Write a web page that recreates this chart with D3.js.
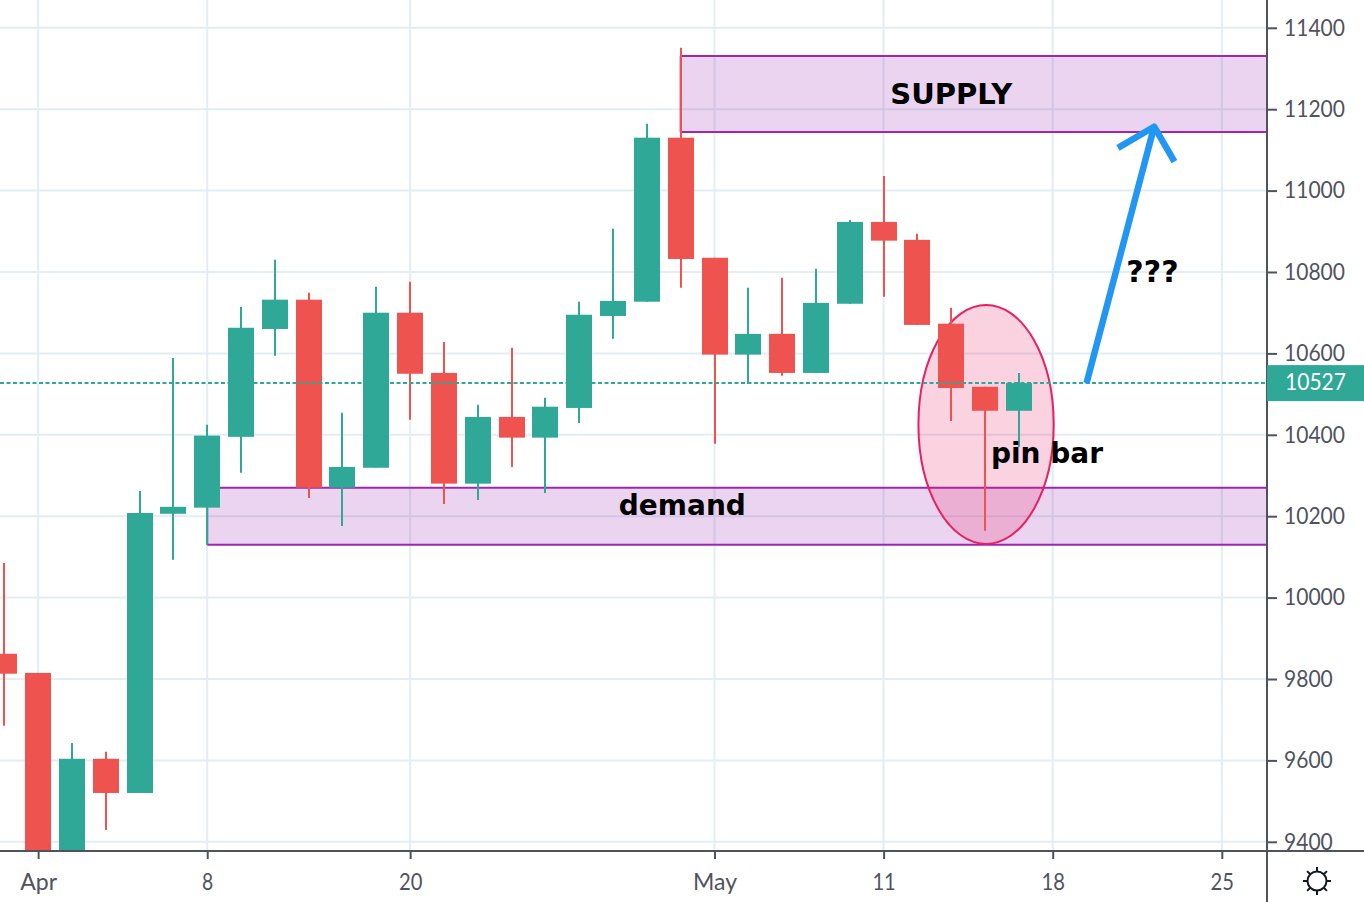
<!DOCTYPE html>
<html>
<head>
<meta charset="utf-8">
<script src="https://cdn.jsdelivr.net/npm/d3@7/dist/d3.min.js"></script>
<style>
html,body{margin:0;padding:0;background:#fff;overflow:hidden}
svg{display:block}
.ax{font-family:Lato,"Open Sans",sans-serif;fill:#50535e;font-size:23px}
.note{font-family:"DejaVu Sans",sans-serif;font-weight:700;fill:#000;text-anchor:middle}
</style>
</head>
<body>
<svg id="c" width="1364" height="902"></svg>
<script>
const bars   = d3.range(31);
const opens  = [9862,9815,9300,9604,9520,10206,10221,10395,10660,10732,10270,10319,10700,10552,10280,10444,10393,10466,10692,10727,11130,10835,10597,10648,10552,10722,10923,10879,10673,10518,10459];
const closes = [9813,9300,9604,9520,10208,10223,10398,10663,10732,10270,10321,10700,10550,10280,10444,10393,10469,10695,10729,11130,10832,10597,10648,10552,10724,10923,10877,10670,10515,10459,10527];
const highs  = [10085,9815,9643,9621,10262,10589,10425,10714,10830,10749,10454,10764,10776,10628,10474,10614,10491,10727,10906,11164,11351,10835,10761,10786,10808,10928,11036,10894,10712,10518,10552];
const lows   = [9685,9300,9300,9429,9520,10093,10130,10307,10594,10245,10176,10319,10437,10230,10240,10321,10257,10429,10636,10727,10761,10378,10525,10545,10552,10722,10739,10670,10434,10164,10370];

const priceTicks = [9400,9600,9800,10000,10200,10400,10600,10800,11000,11200,11400];
const timeTicks  = [1,6,12,21,26,31,36];
const timeLabels = ["Apr","8","20","May","11","18","25"];
const lastPrice  = 10527;
const supplyZone = [20,11331,11144];
const demandZone = [6,10270,10130];
const pinEllipse = [29.03,10719,10132];
const arrowShaft = [[32.0,10527],[34.0,11157]];
const arrowHead  = [[32.93,11105],[34.0,11157],[34.6,11071]];
const notes = [["SUPPLY",28,11213,29],["demand",20.05,10203,28],["pin bar",30.83,10331,28],["???",33.95,10775,30]];

const W=1364,H=902,axisX=1267,axisY=851;
const up="#2fa898",down="#ef5350",grid="#e3edf3",axc="#50535e";
const x=d3.scaleLinear().domain([0,36]).range([4.3,1221.8]);
const y=d3.scaleLinear().domain([9400,11400]).range([841.8,27.8]);
const svg=d3.select("#c");
const defs=svg.append("defs");
defs.append("clipPath").attr("id","pane").append("rect").attr("x",0).attr("y",0).attr("width",axisX).attr("height",axisY);
const pane=svg.append("g").attr("clip-path","url(#pane)");

// grid
pane.selectAll(".gy").data(priceTicks).join("line").attr("x1",0).attr("x2",axisX).attr("y1",d=>y(d)).attr("y2",d=>y(d)).attr("stroke",grid).attr("stroke-width",2);
pane.selectAll(".gx").data(timeTicks).join("line").attr("y1",0).attr("y2",axisY).attr("x1",d=>x(d)).attr("x2",d=>x(d)).attr("stroke",grid).attr("stroke-width",2);

// zones
[supplyZone,demandZone].forEach(z=>{
  const g=pane.append("g");
  g.append("rect").attr("x",x(z[0])).attr("y",y(z[1])).attr("width",axisX-x(z[0])).attr("height",y(z[2])-y(z[1])).attr("fill","#9c27b0").attr("fill-opacity",0.2);
  g.selectAll("line").data([z[1],z[2]]).join("line").attr("x1",x(z[0])).attr("x2",axisX).attr("y1",d=>y(d)).attr("y2",d=>y(d)).attr("stroke","#9c27b0").attr("stroke-width",2);
  g.append("line").attr("x1",x(z[0])).attr("x2",x(z[0])).attr("y1",y(z[1])).attr("y2",y(z[2])).attr("stroke","#9c27b0").attr("stroke-width",2);
});

// ellipse
pane.append("ellipse").attr("cx",x(pinEllipse[0])).attr("cy",(y(pinEllipse[1])+y(pinEllipse[2]))/2)
  .attr("rx",x(2)-x(0)).attr("ry",(y(pinEllipse[2])-y(pinEllipse[1]))/2)
  .attr("fill","#e91e63").attr("fill-opacity",0.2).attr("stroke","#e91e63").attr("stroke-width",2);

// candles
const col=i=>closes[i]>=opens[i]?up:down;
pane.selectAll(".wick").data(bars).join("line").attr("x1",i=>Math.round(x(i))).attr("x2",i=>Math.round(x(i)))
  .attr("y1",i=>y(highs[i])).attr("y2",i=>y(lows[i])).attr("stroke",col).attr("stroke-width",2);
pane.selectAll(".body").data(bars).join("rect").attr("x",i=>Math.round(x(i))-13).attr("width",26)
  .attr("y",i=>y(Math.max(opens[i],closes[i]))).attr("height",i=>Math.abs(y(opens[i])-y(closes[i]))).attr("fill",col);

// last price
pane.append("line").attr("x1",0).attr("x2",axisX).attr("y1",y(lastPrice)).attr("y2",y(lastPrice)).attr("stroke",up).attr("stroke-width",2).attr("stroke-dasharray","4 2.5");

// arrow
const ln=d3.line().x(d=>x(d[0])).y(d=>y(d[1]));
[arrowShaft,arrowHead].forEach(p=>pane.append("path").attr("d",ln(p)).attr("fill","none").attr("stroke","#2196f3").attr("stroke-width",6.5).attr("stroke-linejoin","round"));

// notes
svg.selectAll(".note").data(notes).join("text").attr("class","note").attr("x",d=>x(d[1])).attr("y",d=>y(d[2])).attr("font-size",d=>d[3]).text(d=>d[0]);

// axes
const digitW=12.2;
const ya=d3.axisRight(y).tickValues(priceTicks).tickSize(10).tickPadding(7).tickFormat(d3.format("d"));
const yg=svg.append("g").attr("transform",`translate(${axisX},0)`).call(ya);
yg.select(".domain").remove();
yg.selectAll("line").attr("stroke",axc).attr("stroke-width",2);
yg.selectAll("text").attr("class","ax").attr("font-family",null).attr("font-size",null)
  .attr("textLength",function(d){return String(d).length*digitW;}).attr("lengthAdjust","spacingAndGlyphs");
const xa=d3.axisBottom(x).tickValues(timeTicks).tickSize(8).tickPadding(15).tickFormat((d,i)=>timeLabels[i]);
const xg=svg.append("g").attr("transform",`translate(0,${axisY})`).call(xa);
xg.select(".domain").remove();
xg.selectAll("line").attr("stroke",axc).attr("stroke-width",2);
xg.selectAll("text").attr("class","ax").attr("font-family",null).attr("font-size",null)
  .each(function(d,i){ if(/^\d+$/.test(timeLabels[i])) d3.select(this).attr("textLength",timeLabels[i].length*digitW-1).attr("lengthAdjust","spacingAndGlyphs"); });
svg.append("line").attr("x1",0).attr("x2",W).attr("y1",axisY).attr("y2",axisY).attr("stroke",axc).attr("stroke-width",2);
svg.append("line").attr("x1",axisX).attr("x2",axisX).attr("y1",0).attr("y2",H).attr("stroke",axc).attr("stroke-width",2);

// last price tag
svg.append("rect").attr("x",axisX).attr("y",y(lastPrice)-18).attr("width",W-axisX).attr("height",36).attr("fill",up);
svg.append("text").attr("class","ax").style("fill","#fff").attr("x",1285).attr("y",y(lastPrice)+7)
  .attr("textLength",String(lastPrice).length*digitW).attr("lengthAdjust","spacingAndGlyphs").text(lastPrice);

// settings icon
const ic=svg.append("g").attr("transform","translate(1317,881)");
ic.append("circle").attr("r",9.5).attr("fill","none").attr("stroke","#131722").attr("stroke-width",2);
ic.selectAll("line").data(d3.range(8)).join("line").attr("y1",-10).attr("y2",-14).attr("stroke","#131722").attr("stroke-width",2).attr("transform",d=>`rotate(${d*45})`);
</script>
</body>
</html>
